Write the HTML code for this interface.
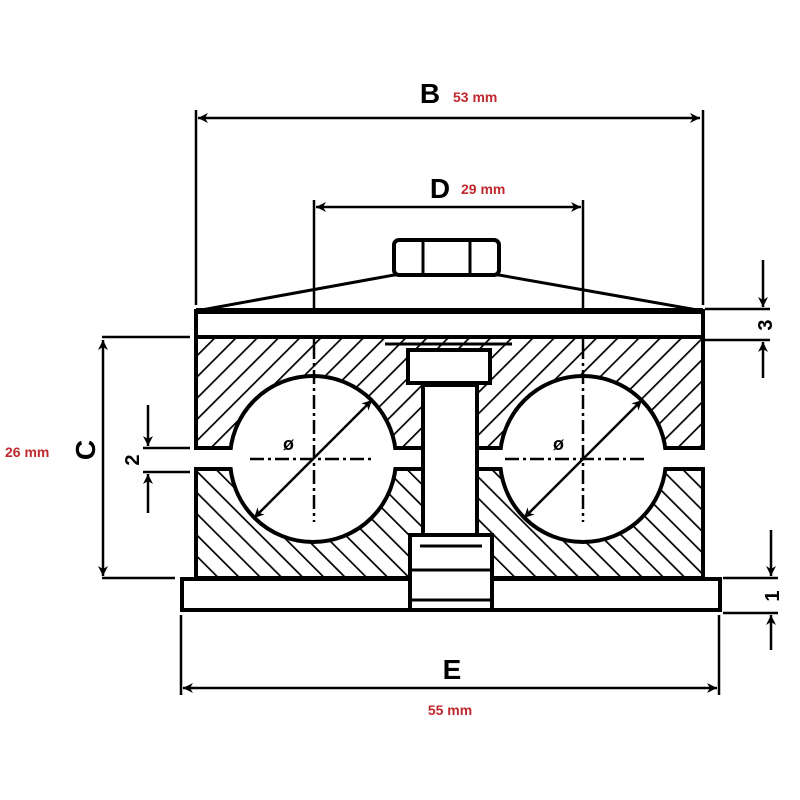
<!DOCTYPE html>
<html><head><meta charset="utf-8"><style>
html,body{margin:0;padding:0;background:#fff;}
svg{display:block;}
.t{font-family:"Liberation Sans",sans-serif;}
.r{font-family:"Liberation Sans",sans-serif;fill:#c0282d;font-weight:bold;font-size:14px;}
</style></head><body>
<svg width="800" height="800" viewBox="0 0 800 800" xmlns="http://www.w3.org/2000/svg">
<defs>
<pattern id="hu" patternUnits="userSpaceOnUse" width="15" height="15" patternTransform="rotate(45)">
<line x1="0" y1="0" x2="0" y2="15" stroke="#000" stroke-width="3.4"/></pattern>
<pattern id="hd" patternUnits="userSpaceOnUse" width="15" height="15" patternTransform="rotate(-45)">
<line x1="0" y1="0" x2="0" y2="15" stroke="#000" stroke-width="3.4"/></pattern>
<marker id="a" viewBox="0 0 10 10" refX="10" refY="5" markerWidth="20" markerHeight="10" orient="auto-start-reverse" markerUnits="userSpaceOnUse"><path d="M0,0 L10,5 L0,10 L3,5 z" fill="#000"/></marker>
</defs>
<rect width="800" height="800" fill="#fff"/>
<g stroke="#000" fill="none" stroke-width="2.5">
<line x1="196" y1="110" x2="196" y2="305"/>
<line x1="703" y1="110" x2="703" y2="305"/>
<line x1="314" y1="200" x2="314" y2="345"/>
<line x1="583" y1="200" x2="583" y2="345"/>
<line x1="102" y1="337" x2="190" y2="337"/>
<line x1="102" y1="578" x2="175" y2="578"/>
<line x1="143" y1="448" x2="190" y2="448"/>
<line x1="143" y1="472" x2="190" y2="472"/>
<line x1="705" y1="309" x2="770" y2="309"/>
<line x1="705" y1="340" x2="770" y2="340"/>
<line x1="723" y1="578" x2="778" y2="578"/>
<line x1="723" y1="613" x2="778" y2="613"/>
<line x1="181" y1="615" x2="181" y2="695"/>
<line x1="719" y1="615" x2="719" y2="695"/>
<line x1="198" y1="118" x2="700" y2="118" marker-start="url(#a)" marker-end="url(#a)"/>
<line x1="316" y1="207" x2="581" y2="207" marker-start="url(#a)" marker-end="url(#a)"/>
<line x1="103" y1="340" x2="103" y2="576" marker-start="url(#a)" marker-end="url(#a)"/>
<line x1="183" y1="688" x2="717" y2="688" marker-start="url(#a)" marker-end="url(#a)"/>
<line x1="148" y1="405" x2="148" y2="446" marker-end="url(#a)"/>
<line x1="148" y1="513" x2="148" y2="474" marker-end="url(#a)"/>
<line x1="763" y1="260" x2="763" y2="307" marker-end="url(#a)"/>
<line x1="763" y1="378" x2="763" y2="342" marker-end="url(#a)"/>
<line x1="771" y1="530" x2="771" y2="576" marker-end="url(#a)"/>
<line x1="771" y1="650" x2="771" y2="615" marker-end="url(#a)"/>
</g>
<g stroke="#000" stroke-width="4">
<rect x="196" y="337" width="507" height="111" fill="url(#hu)"/>
<rect x="196" y="469" width="507" height="109" fill="url(#hd)"/>
<circle cx="313" cy="459" r="83" fill="#fff"/>
<circle cx="583" cy="459" r="83" fill="#fff"/>
</g>
<rect x="190" y="450" width="520" height="17" fill="#fff"/>
<g stroke="#000" stroke-width="4" fill="#fff">
<rect x="423" y="385" width="54" height="150"/>
<rect x="408" y="350" width="82" height="33"/>
<line x1="385" y1="344" x2="512" y2="344" stroke-width="3"/>
<rect x="196" y="311" width="507" height="26"/>
<line x1="196" y1="311" x2="703" y2="311" stroke-width="6"/>
<polygon points="196,311 394,275 499,275 703,311" fill="none" stroke-width="3"/>
<rect x="182" y="579" width="538" height="31"/>
<rect x="410" y="535" width="82" height="75"/>
<line x1="420" y1="546" x2="482" y2="546" stroke-width="3"/>
<line x1="412" y1="570" x2="490" y2="570" stroke-width="3"/>
<line x1="412" y1="600" x2="490" y2="600" stroke-width="3"/>
<rect x="394" y="240" width="105" height="35" rx="5"/>
<line x1="423" y1="242" x2="423" y2="274" stroke-width="3"/>
<line x1="470" y1="242" x2="470" y2="274" stroke-width="3"/>
</g>
<rect x="425" y="450" width="50" height="17" fill="#fff"/>
<line x1="423" y1="448" x2="423" y2="469" stroke="#000" stroke-width="4"/>
<line x1="477" y1="448" x2="477" y2="469" stroke="#000" stroke-width="4"/>
<g stroke="#000" stroke-width="2.5" stroke-dasharray="14,4,3,4">
<line x1="314" y1="345" x2="314" y2="522"/>
<line x1="583" y1="345" x2="583" y2="522"/>
<line x1="250" y1="459" x2="372" y2="459"/>
<line x1="505" y1="459" x2="645" y2="459"/>
</g>
<g stroke="#000" stroke-width="2.5">
<line x1="254" y1="518" x2="372" y2="400" marker-start="url(#a)" marker-end="url(#a)"/>
<line x1="524" y1="518" x2="642" y2="400" marker-start="url(#a)" marker-end="url(#a)"/>
</g>
<text x="283" y="450" class="t" font-size="18" font-weight="bold">ø</text>
<text x="553" y="450" class="t" font-size="18" font-weight="bold">ø</text>
<text x="430" y="103" class="t" font-size="28" font-weight="bold" text-anchor="middle">B</text>
<text x="453" y="102" class="r">53 mm</text>
<text x="440" y="198" class="t" font-size="28" font-weight="bold" text-anchor="middle">D</text>
<text x="461" y="194" class="r">29 mm</text>
<text x="452" y="679" class="t" font-size="28" font-weight="bold" text-anchor="middle">E</text>
<text x="450" y="715" class="r" text-anchor="middle">55 mm</text>
<text x="5" y="457" class="r">26 mm</text>
<text class="t" font-size="28" font-weight="bold" text-anchor="middle" transform="translate(95,450) rotate(-90)">C</text>
<text class="t" font-size="20" font-weight="bold" text-anchor="middle" transform="translate(139,460) rotate(-90)">2</text>
<text class="t" font-size="20" font-weight="bold" text-anchor="middle" transform="translate(772,325) rotate(-90)">3</text>
<text class="t" font-size="20" font-weight="bold" text-anchor="middle" transform="translate(779,596) rotate(-90)">1</text>
</svg>
</body></html>
